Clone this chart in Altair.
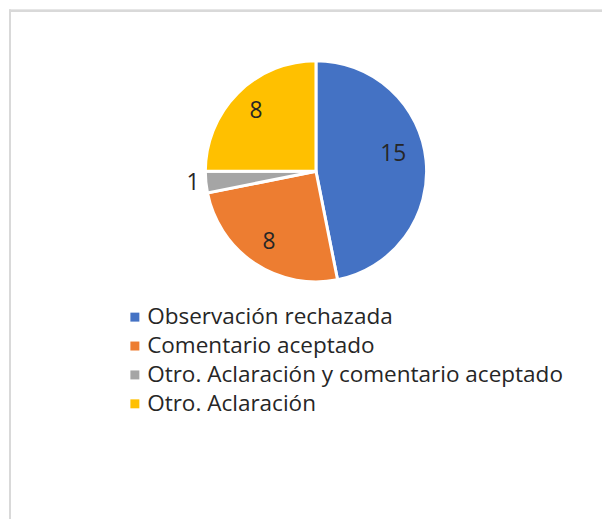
import altair as alt
import pandas as pd

categories = ["Observación rechazada", "Comentario aceptado",
              "Otro. Aclaración y comentario aceptado", "Otro. Aclaración"]
values = [15, 8, 1, 8]
colors = ["#4472C4", "#ED7D31", "#A5A5A5", "#FFC000"]

df = pd.DataFrame({"cat": categories, "val": values, "ord": list(range(len(values)))})

W, H = 595, 511
cx, cy = 308, 162
base = alt.Chart(df).encode(
    theta=alt.Theta("val:Q", stack=True),
    order=alt.Order("ord:Q"),
    x=alt.value(cx), y=alt.value(cy),
)

pie = base.mark_arc(radius=111, stroke="white", strokeWidth=3).encode(
    color=alt.Color("cat:N", sort=categories,
                    scale=alt.Scale(domain=categories, range=colors),
                    legend=alt.Legend(title=None, orient="none", legendX=115, legendY=297,
                                      padding=0, symbolType="square", symbolSize=81,
                                      symbolStrokeWidth=0, labelOffset=1,
                                      labelFont="Open Sans", labelFontSize=22.6,
                                      labelColor="#262626", rowPadding=6,
                                      labelLimit=600))
)

big = base.mark_text(
    radius=82, dx=-4, dy=-9, font="Open Sans", fontSize=22.8, color="#262626"
).encode(text=alt.condition(alt.datum.val > 10, "val:Q", alt.value("")))

inner = base.mark_text(
    radius=85, font="Open Sans", fontSize=22.8, color="#262626"
).encode(text=alt.condition((alt.datum.val > 1) & (alt.datum.val <= 10), "val:Q", alt.value("")))

outer = base.mark_text(
    radius=124, font="Open Sans", fontSize=22.8, color="#262626"
).encode(text=alt.condition(alt.datum.val <= 1, "val:Q", alt.value("")))

frame_top = alt.Chart(df).mark_rule(color="#d9d9d9", strokeWidth=2).encode(
    x=alt.value(0), x2=alt.value(W), y=alt.value(1)
)
frame_left = alt.Chart(df).mark_rule(color="#d9d9d9", strokeWidth=2).encode(
    x=alt.value(1), y=alt.value(0), y2=alt.value(H)
)

chart = alt.layer(frame_top, frame_left, pie, big, inner, outer).properties(
    width=W, height=H, padding=0
).configure_view(stroke=None)

chart.save("out.html", embed_options={"renderer": "svg", "actions": False})
